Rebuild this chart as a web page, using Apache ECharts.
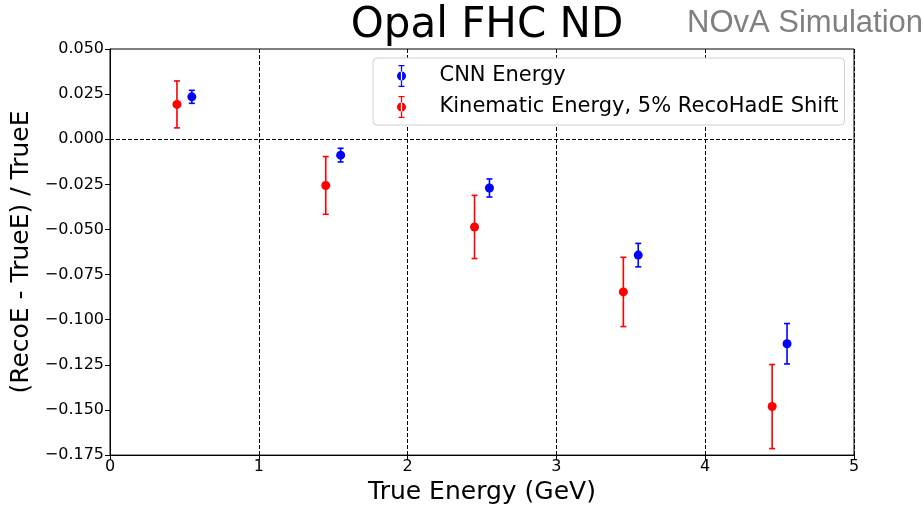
<!DOCTYPE html>
<html>
<head>
<meta charset="utf-8">
<script src="https://cdn.jsdelivr.net/npm/echarts@6/dist/echarts.min.js"></script>
<style>
  html, body { margin: 0; padding: 0; background: #fff; overflow: hidden; }
  #chart { width: 924px; height: 510px; }
</style>
</head>
<body>
<div id="chart"></div>
<script>
// x positions (GeV) - the two sets are offset a little so the bars do not overlap
var kinEnergy = [0.45, 1.45, 2.45, 3.45, 4.45];
var cnnEnergy = [0.55, 1.55, 2.55, 3.55, 4.55];
// (RecoE - TrueE) / TrueE and its error
var cnnMean = [0.0235, -0.0088, -0.0270, -0.0642, -0.1133];
var cnnErr = [0.0036, 0.0038, 0.0050, 0.0065, 0.0112];
var kinMean = [0.0193, -0.0256, -0.0486, -0.0846, -0.1481];
var kinErr = [0.0130, 0.0160, 0.0175, 0.0192, 0.0233];

var seriesNames = ['CNN Energy', 'Kinematic Energy, 5% RecoHadE Shift'];
var FONT = 'DejaVu Sans';

function pairs(xs, ys) {
    return xs.map(function (x, i) { return [x, ys[i]]; });
}
function errRows(xs, ys, es) {
    return xs.map(function (x, i) { return [x, ys[i] - es[i], ys[i] + es[i]]; });
}

// error bar with caps
function renderErr(color) {
    return function (params, api) {
        var lo = api.coord([api.value(0), api.value(1)]);
        var hi = api.coord([api.value(0), api.value(2)]);
        var cap = 3;
        var st = { stroke: color, lineWidth: 1.6 };
        return {
            type: 'group',
            children: [
                { type: 'line', shape: { x1: lo[0], y1: lo[1], x2: hi[0], y2: hi[1] }, style: st },
                { type: 'line', shape: { x1: lo[0] - cap, y1: lo[1], x2: lo[0] + cap, y2: lo[1] }, style: st },
                { type: 'line', shape: { x1: hi[0] - cap, y1: hi[1], x2: hi[0] + cap, y2: hi[1] }, style: st }
            ]
        };
    };
}

// legend icon: dot with a capped vertical bar
var errIcon = 'path://M4.4,0h1.2v22h-1.2z M2,0h6v1.2h-6z M2,20.8h6v1.2h-6z M0.5,11a4.5,4.5 0 1,0 9,0a4.5,4.5 0 1,0 -9,0z';

function fmtY(v) {
    var s = Math.abs(v).toFixed(3);
    return v < -1e-9 ? '\u2212' + s : s;
}

var myChart = echarts.init(document.getElementById('chart'));
myChart.setOption({
    animation: false,
    backgroundColor: '#ffffff',
    textStyle: { fontFamily: FONT },
    title: [{
        text: 'Opal FHC ND',
        left: 482, top: 0, textAlign: 'center',
        textStyle: { fontFamily: FONT, fontSize: 42, fontWeight: 'normal', color: '#000' }
    }, {
        text: 'NOvA Simulation',
        left: 682, top: 3,
        textStyle: { fontFamily: 'Liberation Sans', fontSize: 31, fontWeight: 'normal', color: '#808080' }
    }],
    legend: {
        orient: 'vertical',
        left: 373, top: 58,
        padding: [7, 6, 7, 24],
        itemWidth: 10, itemHeight: 22, itemGap: 9,
        backgroundColor: '#fff',
        borderColor: '#d0d0d0', borderWidth: 1, borderRadius: 4,
        textStyle: { fontFamily: FONT, fontSize: 21, color: '#000', padding: [0, 0, 0, 28] },
        data: [
            { name: seriesNames[0], icon: errIcon, itemStyle: { color: '#0000ff' } },
            { name: seriesNames[1], icon: errIcon, itemStyle: { color: '#ff0000' } }
        ]
    },
    grid: {
        left: 110, right: 70, top: 49, bottom: 49,
        show: true, borderColor: '#000', borderWidth: 1
    },
    xAxis: {
        type: 'value',
        min: 0, max: 5, interval: 1,
        name: 'True Energy (GeV)',
        nameLocation: 'middle', nameGap: 23,
        nameTextStyle: { fontFamily: FONT, fontSize: 25, color: '#000' },
        axisLine: { show: true, onZero: false, lineStyle: { color: '#000' } },
        axisTick: { show: true, length: 5, lineStyle: { color: '#000' } },
        axisLabel: { fontFamily: FONT, fontSize: 16, color: '#000', margin: 4 },
        splitLine: { show: true, lineStyle: { color: '#000', type: [4, 2], width: 1 } }
    },
    yAxis: {
        type: 'value',
        min: -0.175, max: 0.05, interval: 0.025,
        name: '(RecoE - TrueE) / TrueE',
        nameLocation: 'middle', nameGap: 74,
        nameTextStyle: { fontFamily: FONT, fontSize: 25, color: '#000' },
        axisLine: { show: true, onZero: false, lineStyle: { color: '#000' } },
        axisTick: { show: true, length: 5, lineStyle: { color: '#000' } },
        axisLabel: { fontFamily: FONT, fontSize: 16, color: '#000', margin: 6, formatter: fmtY },
        splitLine: { show: false }
    },
    series: [{
        name: seriesNames[0] + ' err',
        type: 'custom',
        renderItem: renderErr('#0000ff'),
        encode: { x: 0, y: [1, 2] },
        data: errRows(cnnEnergy, cnnMean, cnnErr),
        z: 3
    }, {
        name: seriesNames[1] + ' err',
        type: 'custom',
        renderItem: renderErr('#ff0000'),
        encode: { x: 0, y: [1, 2] },
        data: errRows(kinEnergy, kinMean, kinErr),
        z: 3
    }, {
        name: seriesNames[0],
        type: 'scatter',
        symbol: 'circle', symbolSize: 9,
        itemStyle: { color: '#0000ff', opacity: 1 },
        data: pairs(cnnEnergy, cnnMean),
        z: 4,
        markLine: {
            silent: true, symbol: 'none',
            label: { show: false },
            lineStyle: { color: '#000', type: [4, 2], width: 1 },
            data: [{ yAxis: 0 }]
        }
    }, {
        name: seriesNames[1],
        type: 'scatter',
        symbol: 'circle', symbolSize: 9,
        itemStyle: { color: '#ff0000', opacity: 1 },
        data: pairs(kinEnergy, kinMean),
        z: 4
    }]
});
</script>
</body>
</html>
